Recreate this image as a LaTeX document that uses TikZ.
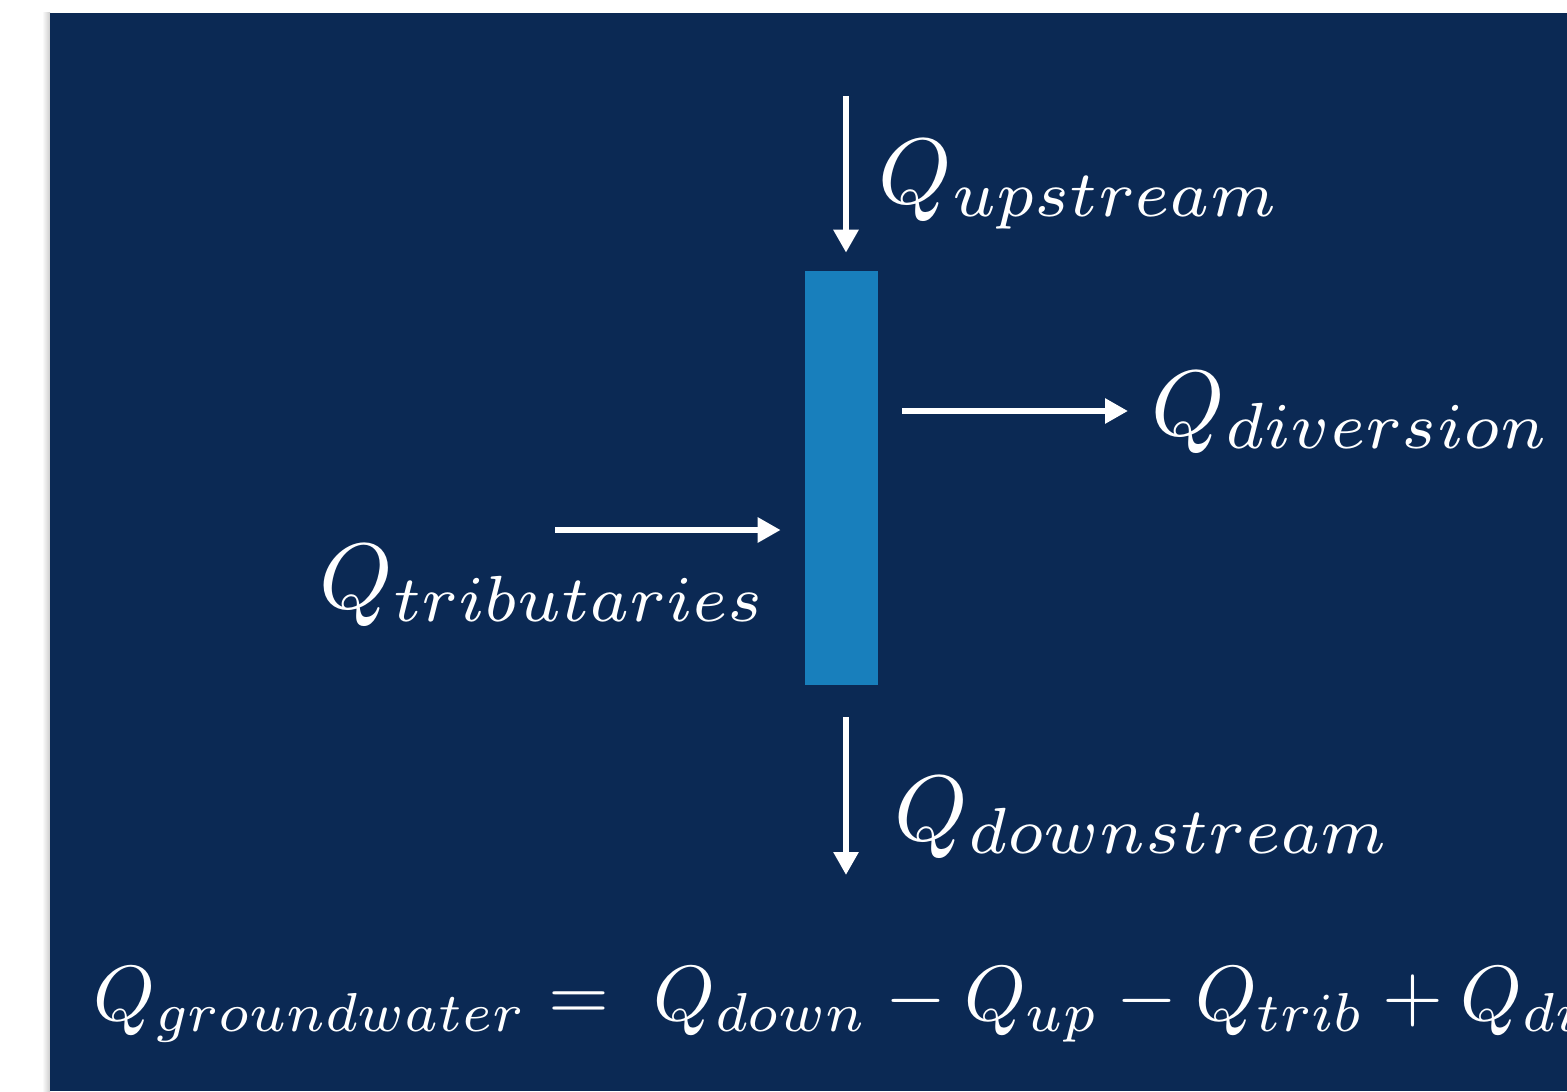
\documentclass[tikz,border=0pt]{standalone}
\usepackage{amsmath}
\usetikzlibrary{arrows.meta}
\definecolor{navybg}{RGB}{11,41,84}
\definecolor{riverblue}{RGB}{24,127,188}

\begin{document}
\begin{tikzpicture}[x=0.02cm, y=-0.02cm,
	flow/.style={white, line width=0.13cm, -{Triangle[length=0.46cm,width=0.48cm]}},
	qlabel/.style={text=white, inner sep=0pt, anchor=base west, scale=5.3}]
	\path [use as bounding box, clip] (0,0) rectangle (1567,1091);
	\fill [white] (0,0) rectangle (1567,1091);
	\shade [left color=white, right color=black!20] (42,13) rectangle (50,1091);
	\fill [navybg] (50,13) rectangle (1567,1091);
	% the river reach
	\node [fill=riverblue, minimum width=1.46cm, minimum height=8.28cm, inner sep=0pt] (reach) at (841.5,478) {};
	% inflow from upstream
	\coordinate (upin) at (846,96);
	\draw [flow, shorten >=0.36cm] (upin) -- (upin |- reach.north);
	\node [qlabel] (upq) at (877,203) {$Q_{upstream}$};
	% diversion
	\coordinate (divout) at (1128,411);
	\draw [flow, shorten <=0.48cm] (reach.east |- divout) -- (divout);
	\node [qlabel] (divq) at (1150,435) {$Q_{diversion}$};
	% tributaries
	\coordinate (tribin) at (555,530);
	\draw [flow, shorten >=0.48cm] (tribin) -- (reach.west |- tribin);
	\node [qlabel] (tribq) at (318,608) {$Q_{tributaries}$};
	% outflow downstream
	\coordinate (downout) at (846,875);
	\draw [flow, shorten <=0.64cm] (downout |- reach.south) -- (downout);
	\node [qlabel] (downq) at (893,840) {$Q_{downstream}$};
	% balance, runs off the right edge
	\node [qlabel, scale=4.46/5.3] (balance) at (92,1020) {$Q_{groundwater} = \; Q_{down} - Q_{up} - Q_{trib} + Q_{div}$};
\end{tikzpicture}
\end{document}
